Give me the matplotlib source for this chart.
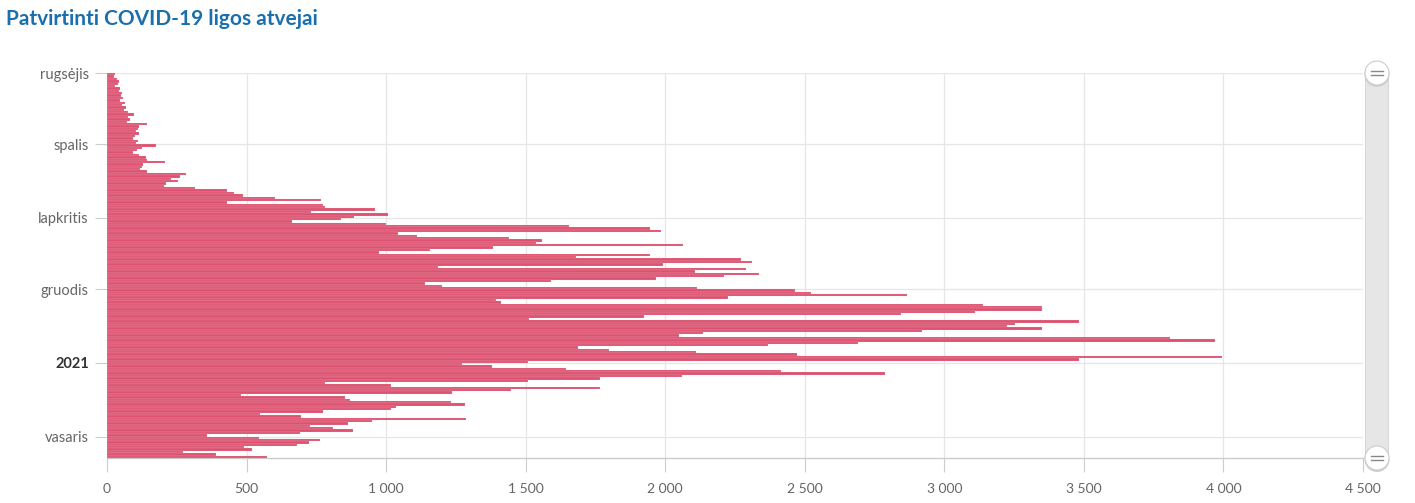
import pandas as pd
import matplotlib
matplotlib.use('Agg')
import matplotlib.pyplot as plt
from matplotlib.patches import Rectangle, Circle

plt.rcParams['font.family'] = ['Lato', 'DejaVu Sans']

# Dienos atvejai pagal mėnesius (nuo 2020-09-01)
rugsejis = [30, 25, 37, 44, 40, 29, 47, 44, 53, 50, 58, 47, 64, 55, 68, 60, 75, 97, 76, 82,
            70, 142, 116, 112, 104, 116, 100, 94, 112, 105]
spalis = [176, 124, 106, 94, 116, 140, 142, 208, 128, 124, 117, 144, 282, 261, 229, 253, 213,
          205, 317, 430, 454, 486, 603, 766, 430, 774, 782, 959, 731, 1007, 886]
lapkritis = [838, 662, 999, 1656, 1944, 1984, 1042, 1111, 1439, 1560, 1536, 2065, 1383, 1159,
             975, 1944, 1680, 2270, 2312, 1993, 1185, 2291, 2106, 2337, 2210, 1966, 1590,
             1140, 1201, 2115]
gruodis = [2464, 2522, 2867, 2224, 1395, 1411, 3140, 3349, 3349, 3110, 2846, 1923, 1513, 3482,
           3253, 3223, 3349, 2921, 2137, 2049, 3810, 3970, 2690, 2368, 1689, 1797, 2112, 2472,
           3995, 3481, 1510]
sausis = [1272, 1381, 1644, 2415, 2789, 2061, 1767, 1510, 782, 1016, 1767, 1448, 1236, 481,
          852, 872, 1232, 1282, 1035, 1016, 773, 547, 695, 1288, 948, 862, 726, 808, 880, 690, 357]
vasaris = [545, 763, 723, 681, 490, 520, 274, 390, 574]

month_labels = ['rugsėjis', 'spalis', 'lapkritis', 'gruodis', '2021', 'vasaris']
month_starts = ['2020-09-01', '2020-10-01', '2020-11-01', '2020-12-01', '2021-01-01', '2021-02-01']
x_ticks = [0, 500, 1000, 1500, 2000, 2500, 3000, 3500, 4000, 4500]

values = rugsejis + spalis + lapkritis + gruodis + sausis + vasaris
start = pd.Timestamp('2020-09-01')
dates = pd.date_range(start, periods=len(values), freq='D')
day_pos = (dates - start).days
tick_pos = [(pd.Timestamp(m) - start).days for m in month_starts]

W, H = 1415, 503
fig = plt.figure(figsize=(W / 100, H / 100), dpi=100)
left, right, top, bottom = 107, 1363, 73, 458
ax = fig.add_axes([left / W, 1 - bottom / H, (right - left) / W, (bottom - top) / H])

ax.barh(day_pos, values, height=1.0, align='edge', color='#dc5270',
        edgecolor='#f6dbe1', linewidth=0.12, zorder=3)

ax.set_ylim(len(values), 0)
ax.set_xlim(0, 4500)

ax.set_yticks(tick_pos)
ax.set_yticklabels(month_labels)
for lbl in ax.get_yticklabels():
    lbl.set_color('#666666')
    lbl.set_fontsize(10.5)
    if lbl.get_text() == '2021':
        lbl.set_fontweight('bold')
        lbl.set_color('#333333')

ax.set_xticks(x_ticks)
ax.set_xticklabels([f'{v:,}'.replace(',', ' ') for v in x_ticks])
for lbl in ax.get_xticklabels():
    lbl.set_color('#666666')
    lbl.set_fontsize(10)

ax.tick_params(axis='y', length=9, width=0.8, color='#cccccc', pad=4)
ax.tick_params(axis='x', length=10, width=0.8, color='#cccccc', pad=8)

ax.grid(True, color='#e6e6e6', linewidth=0.9, zorder=0)
ax.set_axisbelow(True)
for s in ['top', 'right', 'left']:
    ax.spines[s].set_visible(False)
ax.spines['bottom'].set_color('#cccccc')
ax.spines['bottom'].set_linewidth(1)

# Pavadinimas
fig.text(6 / W, 1 - 19 / H, 'Patvirtinti COVID-19 ligos atvejai', color='#1a6fae',
         fontsize=15, fontweight='bold', va='center', ha='left')

# Slinkties juosta dešinėje
over = fig.add_axes([0, 0, 1, 1], zorder=5)
over.set_xlim(0, W)
over.set_ylim(H, 0)
over.axis('off')
over.add_patch(Rectangle((1365, top), 23, bottom - top, facecolor='#e6e6e6',
                         edgecolor='#d8d8d8', linewidth=0.8))
for cy in [top, bottom]:
    over.add_patch(Circle((1377, cy + 1.5), 12.5, facecolor='#d0d0d0', edgecolor='none'))
    over.add_patch(Circle((1377, cy), 12, facecolor='white', edgecolor='#cccccc', linewidth=0.8))
    over.plot([1371, 1383], [cy - 2, cy - 2], color='#888888', linewidth=1)
    over.plot([1371, 1383], [cy + 2, cy + 2], color='#888888', linewidth=1)

fig.savefig('out.png', dpi=100)
